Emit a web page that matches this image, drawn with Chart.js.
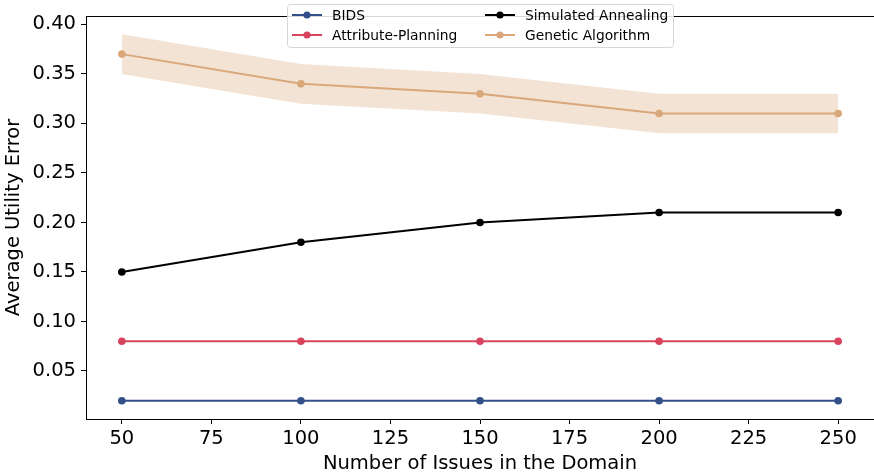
<!DOCTYPE html>
<html>
<head>
<meta charset="utf-8">
<script src="https://cdn.jsdelivr.net/npm/chart.js@4.4.1/dist/chart.umd.min.js"></script>
<style>
  html, body { margin: 0; padding: 0; background: #fff; }
  #wrap { width: 874px; height: 476px; position: relative; }
</style>
</head>
<body>
<div id="wrap"><canvas id="c" width="874" height="476"></canvas></div>
<script>
const issues = [50, 100, 150, 200, 250];
const bids = [0.02, 0.02, 0.02, 0.02, 0.02];
const attributePlanning = [0.08, 0.08, 0.08, 0.08, 0.08];
const simulatedAnnealing = [0.15, 0.18, 0.20, 0.21, 0.21];
const geneticAlgorithm = [0.37, 0.34, 0.33, 0.31, 0.31];
const gaUpper = [0.39, 0.36, 0.35, 0.33, 0.33];
const gaLower = [0.35, 0.32, 0.31, 0.29, 0.29];
const xTicks = [50, 75, 100, 125, 150, 175, 200, 225, 250];
const yTicks = [0.05, 0.10, 0.15, 0.20, 0.25, 0.30, 0.35, 0.40];

const COLORS = {
  bids: '#33508a',
  ap: '#d8435e',
  sa: '#000000',
  ga: '#d9a77a',
  gaFill: 'rgba(217,167,122,0.32)'
};

const pts = arr => issues.map((x, i) => ({ x: x, y: arr[i] }));

const lineDs = (label, data, color) => ({
  label, data: pts(data), borderColor: color, backgroundColor: color,
  pointBackgroundColor: color, pointBorderColor: color, pointBorderWidth: 0,
  borderWidth: 2, pointRadius: 3.8, pointHoverRadius: 3.8, fill: false, tension: 0
});

const legendItems = [
  { label: 'BIDS', color: COLORS.bids },
  { label: 'Attribute-Planning', color: COLORS.ap },
  { label: 'Simulated Annealing', color: COLORS.sa },
  { label: 'Genetic Algorithm', color: COLORS.ga }
];

const frame = {
  id: 'frame',
  afterDatasetsDraw(chart) {
    const { ctx, chartArea: a } = chart;
    ctx.save();
    ctx.strokeStyle = '#000';
    ctx.lineWidth = 1;
    ctx.beginPath();
    ctx.moveTo(a.left, a.top + 0.5);
    ctx.lineTo(a.right, a.top + 0.5);
    ctx.stroke();
    ctx.restore();
  },
  afterDraw(chart) {
    const ctx = chart.ctx;
    ctx.save();
    const bx = 287.5, by = 4.5, bw = 386, bh = 43;
    ctx.fillStyle = 'rgba(255,255,255,0.85)';
    ctx.strokeStyle = '#d6d6d6';
    ctx.lineWidth = 1;
    const r = 3;
    ctx.beginPath();
    ctx.moveTo(bx + r, by);
    ctx.lineTo(bx + bw - r, by);
    ctx.quadraticCurveTo(bx + bw, by, bx + bw, by + r);
    ctx.lineTo(bx + bw, by + bh - r);
    ctx.quadraticCurveTo(bx + bw, by + bh, bx + bw - r, by + bh);
    ctx.lineTo(bx + r, by + bh);
    ctx.quadraticCurveTo(bx, by + bh, bx, by + bh - r);
    ctx.lineTo(bx, by + r);
    ctx.quadraticCurveTo(bx, by, bx + r, by);
    ctx.closePath();
    ctx.fill();
    ctx.stroke();
    const cols = [292, 485];
    const rows = [15, 35];
    ctx.font = '13.8px "DejaVu Sans"';
    ctx.textBaseline = 'middle';
    ctx.textAlign = 'left';
    legendItems.forEach((it, i) => {
      const cx = cols[Math.floor(i / 2)];
      const cy = rows[i % 2];
      ctx.strokeStyle = it.color;
      ctx.lineWidth = 2;
      ctx.beginPath();
      ctx.moveTo(cx, cy);
      ctx.lineTo(cx + 30, cy);
      ctx.stroke();
      ctx.fillStyle = it.color;
      ctx.beginPath();
      ctx.arc(cx + 15, cy, 3.6, 0, Math.PI * 2);
      ctx.fill();
      ctx.fillStyle = '#000';
      ctx.fillText(it.label, cx + 40, cy + 1);
    });
    ctx.restore();
  }
};

new Chart(document.getElementById('c'), {
  type: 'line',
  data: {
    datasets: [
      { label: 'GA upper', data: pts(gaUpper), borderWidth: 0, pointRadius: 0, fill: '+1',
        backgroundColor: COLORS.gaFill, borderColor: 'rgba(0,0,0,0)', tension: 0 },
      { label: 'GA lower', data: pts(gaLower), borderWidth: 0, pointRadius: 0, fill: false,
        borderColor: 'rgba(0,0,0,0)', tension: 0 },
      lineDs('BIDS', bids, COLORS.bids),
      lineDs('Attribute-Planning', attributePlanning, COLORS.ap),
      lineDs('Simulated Annealing', simulatedAnnealing, COLORS.sa),
      lineDs('Genetic Algorithm', geneticAlgorithm, COLORS.ga)
    ]
  },
  options: {
    responsive: false,
    animation: false,
    events: [],
    layout: { autoPadding: false, padding: { top: 16, right: 0, left: 0, bottom: 0 } },
    plugins: { legend: { display: false }, tooltip: { enabled: false } },
    scales: {
      x: {
        type: 'linear', min: 40, max: 260,
        afterBuildTicks: s => { s.ticks = xTicks.map(v => ({ value: v })); },
        afterFit: s => { s.height = 57; s.paddingLeft = 0; s.paddingRight = 0; },
        grid: { display: true, drawOnChartArea: false, drawTicks: true, tickLength: 5, color: '#000', lineWidth: 1 },
        border: { display: true, color: '#000', width: 1 },
        ticks: { color: '#000', font: { family: 'DejaVu Sans', size: 19.5 }, padding: 3, maxRotation: 0, autoSkip: false },
        title: { display: true, text: 'Number of Issues in the Domain', color: '#000',
          font: { family: 'DejaVu Sans', size: 19.5 }, padding: { top: 0, bottom: 0 } }
      },
      y: {
        type: 'linear', min: 0.0015, max: 0.4085,
        afterBuildTicks: s => { s.ticks = yTicks.map(v => ({ value: v })); },
        afterFit: s => { s.width = 86; s.paddingTop = 0; s.paddingBottom = 0; },
        grid: { display: true, drawOnChartArea: false, drawTicks: true, tickLength: 5, color: '#000', lineWidth: 1 },
        border: { display: true, color: '#000', width: 1 },
        ticks: { color: '#000', font: { family: 'DejaVu Sans', size: 19.5 }, padding: 5,
          callback: v => v.toFixed(2), autoSkip: false },
        title: { display: true, text: 'Average Utility Error', color: '#000',
          font: { family: 'DejaVu Sans', size: 19.5 }, padding: { top: 2, bottom: 0 } }
      }
    }
  },
  plugins: [frame]
});
</script>
</body>
</html>
